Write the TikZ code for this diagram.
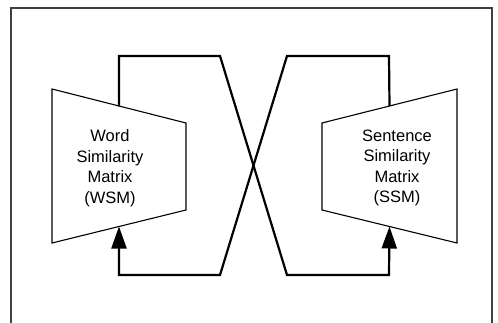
\documentclass[tikz,border=0pt]{standalone}
\usepackage{fontspec}
\setmainfont{Liberation Sans}
\usetikzlibrary{arrows.meta,calc}
\begin{document}
\begin{tikzpicture}[x=1pt,y=-1pt,
  frame/.style={draw=black!75,line width=1.1pt},
  matrixbox/.style={draw=black,line width=1.1pt,line join=miter},
  label/.style={align=center,font=\fontsize{16.5}{20.5}\selectfont,inner sep=0pt},
  feed/.style={draw=black,line width=2.2pt,line join=miter},
  feedarrow/.style={feed,-{Triangle[length=22pt,width=15pt]}}]
\useasboundingbox (0,0) rectangle (498,322);
% open frame around the figure
\draw[frame] (11,330) -- (11,8) -- (492,8) -- (492,330);

% WSM trapezoid corners
\coordinate (wtl) at (52,89);
\coordinate (wtr) at (186,123);
\coordinate (wbr) at (186,210);
\coordinate (wbl) at (52,243);
% SSM trapezoid corners
\coordinate (stl) at (322,123);
\coordinate (str) at (457,89);
\coordinate (sbr) at (457,243);
\coordinate (sbl) at (322,210);

\draw[matrixbox] (wtl) -- (wtr) -- (wbr) -- (wbl) -- cycle;
\draw[matrixbox] (stl) -- (str) -- (sbr) -- (sbl) -- cycle;

\node[label] (wsm) at (110,168) {Word\\Similarity\\Matrix\\(WSM)};
\node[label] (ssm) at (397,168) {Sentence\\Similarity\\Matrix\\(SSM)};

% attachment points on the trapezoid edges
\coordinate (wsmout) at ($(wtl)!0.5!(wtr)$);
\coordinate (wsmin)  at ($(wbl)!0.5!(wbr)$);
\coordinate (ssmout) at ($(stl)!0.5!(str)$);
\coordinate (ssmin)  at ($(sbl)!0.5!(sbr)$);

% crossing feedback loops
\coordinate (wup) at (119,56);
\coordinate (wx)  at (220,56);
\coordinate (sx)  at (287,56);
\coordinate (sup) at (389,56);
\coordinate (wdn) at (119,275);
\coordinate (wy)  at (220,275);
\coordinate (sy)  at (287,275);
\coordinate (sdn) at (389,275);

\draw[feedarrow] (wsmout) -- (wup) -- (wx) -- (sy) -- (sdn) -- (ssmin);
\draw[feedarrow] (ssmout) -- (sup) -- (sx) -- (wy) -- (wdn) -- (wsmin);
\end{tikzpicture}
\end{document}
